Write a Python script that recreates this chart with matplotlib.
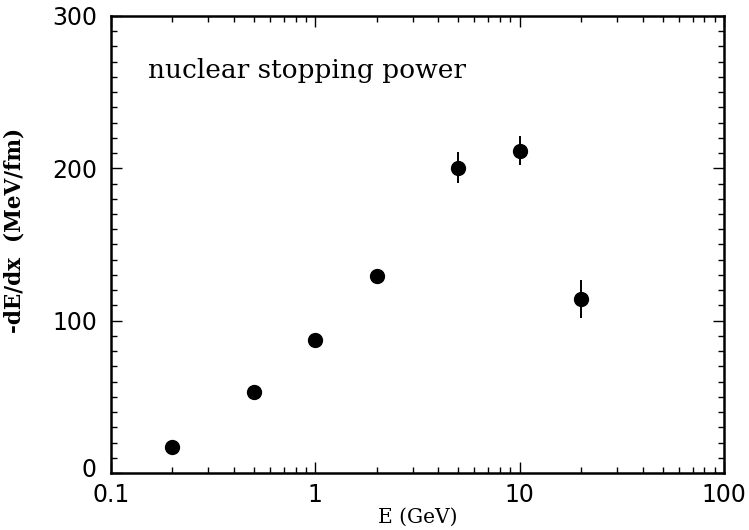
import matplotlib
matplotlib.use('Agg')
import matplotlib.pyplot as plt
import matplotlib.transforms as mtransforms
from matplotlib.ticker import FixedLocator, LogLocator, NullFormatter

# beam energy (GeV) and stopping power (MeV/fm)
energy = [0.2, 0.5, 1, 2, 5, 10, 20]
dedx = [17, 53, 87, 129, 200.5, 211.5, 114]
dedx_err = [0, 0, 0, 0, 10, 9.5, 12.5]

fig = plt.figure(figsize=(7.49, 5.30), dpi=100)
ax = fig.add_axes([0.148, 0.1075, 0.819, 0.8625])

ax.errorbar(energy, dedx, yerr=dedx_err, fmt='o', color='black',
            markersize=10, elinewidth=1.4, capsize=0)

ax.set_xscale('log')
ax.set_xlim(0.1, 100)
ax.set_ylim(0, 300)

ax.xaxis.set_major_locator(FixedLocator([0.1, 1, 10, 100]))
ax.set_xticklabels(['0.1', '1', '10', '100'])
ax.xaxis.set_minor_locator(LogLocator(base=10, subs=range(2, 10)))
ax.xaxis.set_minor_formatter(NullFormatter())
ax.yaxis.set_major_locator(FixedLocator([0, 100, 200, 300]))
ax.yaxis.set_minor_locator(FixedLocator(range(0, 301, 10)))

ax.tick_params(which='both', direction='in', top=True, right=True)
ax.tick_params(which='major', length=8, width=1, labelsize=17)
ax.tick_params(axis='y', which='major', pad=10)
ax.tick_params(axis='x', which='major', pad=7)
ax.tick_params(which='minor', length=4, width=1)
for s in ax.spines.values():
    s.set_linewidth(1.8)

# nudge the "0" label up so it clears "0.1" at the corner
zero_lbl = ax.get_yticklabels()[0]
zero_lbl.set_transform(zero_lbl.get_transform() +
                       mtransforms.ScaledTranslation(0, 4 / 72, fig.dpi_scale_trans))

ax.set_xlabel('E (GeV)', family='DejaVu Serif', fontsize=14.5)
ax.xaxis.set_label_coords(0.5, -0.075)
ax.set_ylabel('-dE/dx  (MeV/fm)', family='DejaVu Serif', fontsize=15.5,
              fontweight='bold')
ax.yaxis.set_label_coords(-0.139, 0.53)

ax.text(0.152, 259, 'nuclear stopping power', family='DejaVu Serif',
        fontsize=19, va='baseline', ha='left')

fig.savefig('out.png', dpi=100)
